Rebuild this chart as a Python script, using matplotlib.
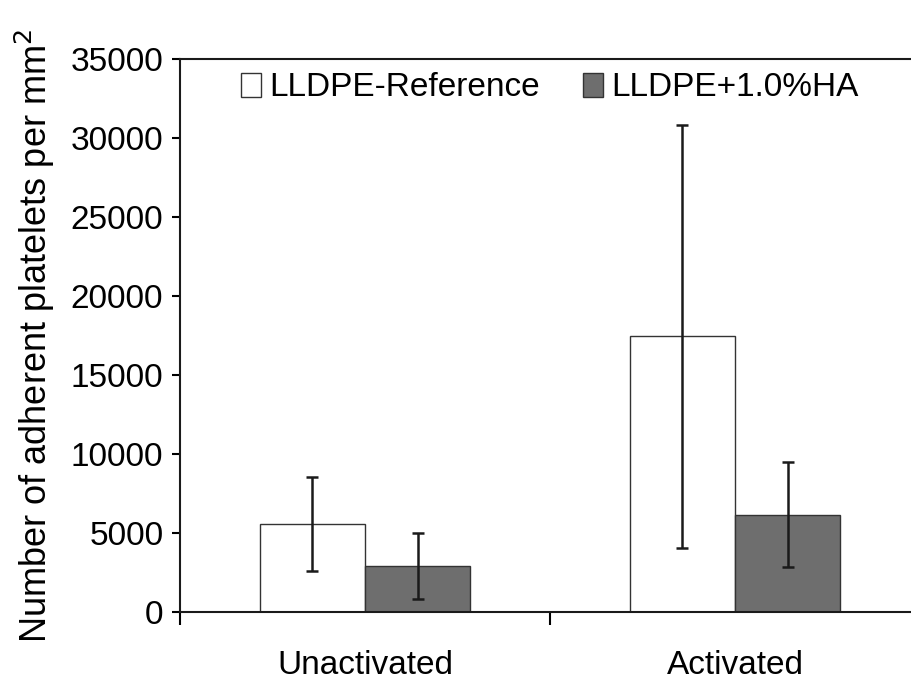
import matplotlib
matplotlib.use("Agg")
import matplotlib.pyplot as plt
import numpy as np

plt.rcParams['font.family'] = ['Liberation Sans', 'DejaVu Sans']

# data
conditions = ["Unactivated", "Activated"]
series = ["LLDPE-Reference", "LLDPE+1.0%HA"]
ref_mean = [5580, 17440]
ref_err = [2980, 13380]
ha_mean = [2920, 6150]
ha_err = [2090, 3330]
colors = ["white", "#6e6e6e"]

fig = plt.figure(figsize=(9.12, 6.84), dpi=100)
ax = fig.add_axes([180 / 912, 72 / 684, 740 / 912, 553 / 684])

x = np.arange(len(conditions)) + 0.5
w = 0.285
err_kw = dict(elinewidth=1.8, capthick=1.8, ecolor="#1a1a1a")
ax.bar(x - w / 2, ref_mean, w, yerr=ref_err, capsize=4, color=colors[0],
       edgecolor="#333333", linewidth=1.0, error_kw=err_kw, label=series[0])
ax.bar(x + w / 2, ha_mean, w, yerr=ha_err, capsize=4, color=colors[1],
       edgecolor="#333333", linewidth=1.0, error_kw=err_kw, label=series[1])

ax.set_xlim(0, 2)
ax.set_ylim(0, 35000)
ax.set_yticks(np.arange(0, 35001, 5000))
ax.set_xticks([0, 1, 2])
ax.set_xticklabels([])
ax.set_xticks(x, minor=True)
ax.set_xticklabels(conditions, minor=True)
ax.tick_params(axis="x", which="minor", length=0, pad=27, labelsize=24)
ax.tick_params(axis="x", which="major", length=9, width=1.5, direction="out")
ax.tick_params(axis="y", length=6, width=1.5, pad=6, labelsize=24)

for s in ["left", "bottom", "top"]:
    ax.spines[s].set_linewidth(1.5)
    ax.spines[s].set_color("#1a1a1a")
ax.spines["right"].set_visible(False)

ax.set_ylabel("Number of adherent platelets per mm$^2$", fontsize=26, labelpad=10)

ax.legend(loc="upper center", ncol=2, frameon=False, fontsize=24,
          handlelength=0.6, handleheight=0.75, handletextpad=0.25,
          columnspacing=1.3, borderaxespad=0.0)

fig.savefig("out.png", dpi=100)
